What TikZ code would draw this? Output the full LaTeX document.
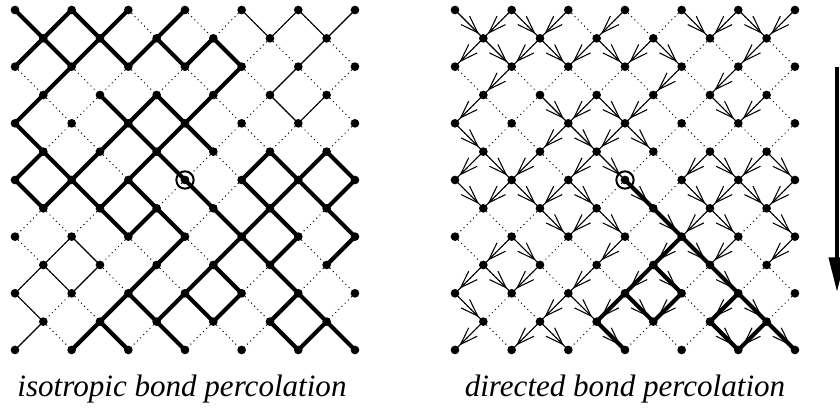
\documentclass[tikz,border=0pt]{standalone}
\usepackage{fontspec}
\setmainfont{Liberation Serif}
\usetikzlibrary{arrows.meta,decorations.markings}
\tikzset{
  dotnode/.style={circle,fill=black,inner sep=0pt,minimum size=6.5pt},
  closededge/.style={line width=0.75pt,dash pattern=on 0.75pt off 2.6pt},
  thinedge/.style={line width=0.85pt},
  thickedge/.style={line width=3.1pt,line cap=round,line join=round},
  arrowedge/.style={line width=0.8pt,postaction={decorate},
    decoration={markings,mark=at position 0.84 with {\arrow{Straight Barb[length=13pt,width=9pt]}}}},
  originmark/.style={circle,draw,line width=1.5pt,inner sep=0pt,minimum size=13pt},
  caption/.style={font=\fontsize{23.3}{28}\selectfont\itshape,anchor=base,inner sep=0pt},
}
\def\thickL{0/0/1,2/0/-1,2/0/1,4/0/-1,6/0/-1,
1/1/-1,1/1/1,3/1/-1,3/1/1,5/1/-1,5/1/1,7/1/-1,7/1/1,
2/2/-1,8/2/-1,
1/3/-1,3/3/1,5/3/-1,5/3/1,7/3/-1,
0/4/1,4/4/-1,4/4/1,6/4/-1,6/4/1,
1/5/-1,1/5/1,3/5/-1,5/5/-1,5/5/1,9/5/-1,9/5/1,11/5/-1,11/5/1,
0/6/1,2/6/-1,2/6/1,4/6/-1,4/6/1,6/6/1,8/6/1,10/6/-1,10/6/1,12/6/-1,
3/7/1,5/7/-1,5/7/1,7/7/1,9/7/-1,9/7/1,11/7/1,
6/8/-1,8/8/-1,8/8/1,10/8/-1,12/8/-1,
5/9/-1,7/9/-1,7/9/1,9/9/1,
4/10/-1,4/10/1,6/10/-1,6/10/1,8/10/-1,10/10/-1,10/10/1,
3/11/-1,3/11/1,5/11/1,9/11/1,11/11/-1,11/11/1}
\def\thinL{8/0/1,10/0/-1,10/0/1,12/0/-1,11/1/-1,10/2/-1,9/3/1,11/3/-1,
2/8/-1,2/8/1,1/9/-1,1/9/1,3/9/-1,0/10/1,1/11/-1}
\def\thickR{6/6/1,7/7/1,8/8/-1,8/8/1,7/9/-1,7/9/1,9/9/1,6/10/-1,6/10/1,
8/10/-1,10/10/-1,10/10/1,5/11/1,9/11/1,11/11/-1,11/11/1}
\begin{document}
\begin{tikzpicture}[x=0.75pt,y=-0.75pt]
\useasboundingbox (0,0) rectangle (840,414);
% lattice points
\foreach \j in {0,...,12}{\foreach \i in {0,...,12}{
  \pgfmathtruncatemacro\pty{mod(\i+\j,2)}
  \ifnum\pty=0
    \coordinate (L-\i-\j) at ({15+28.33*\i},{10+28.33*\j});
    \coordinate (R-\i-\j) at ({455+28.33*\i},{10+28.33*\j});
  \fi}}
% closed bonds (dotted)
\foreach \j in {0,...,11}{\foreach \i in {0,...,12}{
  \pgfmathtruncatemacro\pty{mod(\i+\j,2)}
  \pgfmathtruncatemacro\ny{\j+1}
  \ifnum\pty=0
    \ifnum\i>0
      \pgfmathtruncatemacro\nx{\i-1}
      \draw[closededge] (L-\i-\j) -- (L-\nx-\ny);
      \draw[closededge] (R-\i-\j) -- (R-\nx-\ny);
    \fi
    \ifnum\i<12
      \pgfmathtruncatemacro\nx{\i+1}
      \draw[closededge] (L-\i-\j) -- (L-\nx-\ny);
      \draw[closededge] (R-\i-\j) -- (R-\nx-\ny);
    \fi
  \fi}}
% left panel: open bonds
\foreach \i/\j/\dd in \thickL{
  \pgfmathtruncatemacro\nx{\i+\dd}\pgfmathtruncatemacro\ny{\j+1}
  \draw[thickedge] (L-\i-\j) -- (L-\nx-\ny);}
\foreach \i/\j/\dd in \thinL{
  \pgfmathtruncatemacro\nx{\i+\dd}\pgfmathtruncatemacro\ny{\j+1}
  \draw[thinedge] (L-\i-\j) -- (L-\nx-\ny);}
% right panel: cluster of origin
\foreach \i/\j/\dd in \thickR{
  \pgfmathtruncatemacro\nx{\i+\dd}\pgfmathtruncatemacro\ny{\j+1}
  \draw[thickedge] (R-\i-\j) -- (R-\nx-\ny);}
% right panel: all open bonds with arrows
\foreach \i/\j/\dd in \thickL{
  \pgfmathtruncatemacro\nx{\i+\dd}\pgfmathtruncatemacro\ny{\j+1}
  \draw[arrowedge] (R-\i-\j) -- (R-\nx-\ny);}
\foreach \i/\j/\dd in \thinL{
  \pgfmathtruncatemacro\nx{\i+\dd}\pgfmathtruncatemacro\ny{\j+1}
  \draw[arrowedge] (R-\i-\j) -- (R-\nx-\ny);}
% dots
\foreach \j in {0,...,12}{\foreach \i in {0,...,12}{
  \pgfmathtruncatemacro\pty{mod(\i+\j,2)}
  \ifnum\pty=0
    \node[dotnode] (Ld-\i-\j) at (L-\i-\j) {};
    \node[dotnode] (Rd-\i-\j) at (R-\i-\j) {};
  \fi}}
% origins
\node[originmark] (Lorig) at (L-6-6) {};
\node[originmark] (Rorig) at (R-6-6) {};
% direction arrow
\coordinate (dirtop) at (837,67);
\coordinate (dirbot) at (837,292);
\draw[line width=3pt,-{Triangle[length=26pt,width=12pt]}] (dirtop) -- (dirbot);
% captions
\node[caption] (capL) at (182,396) {isotropic bond percolation};
\node[caption] (capR) at (625,396) {directed bond percolation};
\end{tikzpicture}
\end{document}
